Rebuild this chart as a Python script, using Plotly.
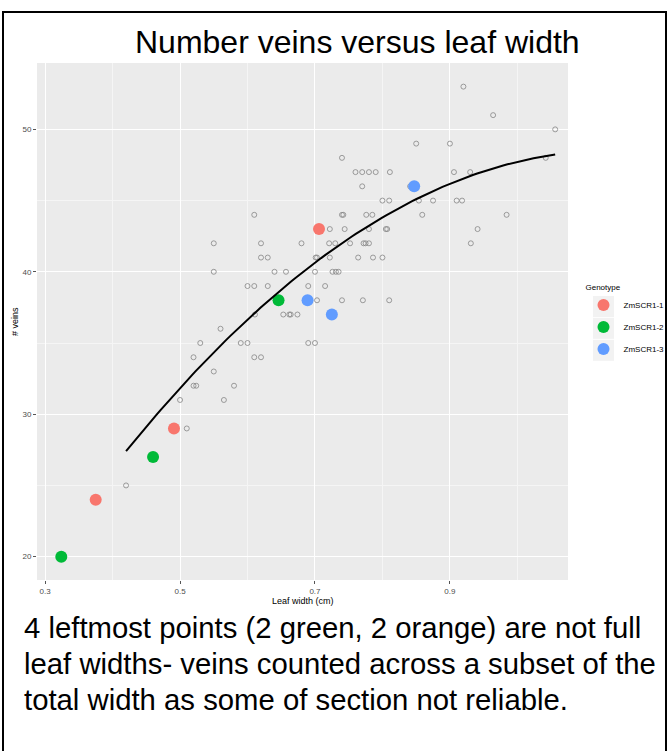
import numpy as np
import plotly.graph_objects as go

# ---- data ----
gray_x = [0.920, 0.964, 1.056, 0.850, 0.900, 0.740, 1.042,
          0.760, 0.770, 0.780, 0.790, 0.811, 0.906, 0.930,
          0.770, 0.841,
          0.800, 0.810, 0.854, 0.875, 0.910, 0.918,
          0.610, 0.740, 0.742, 0.776, 0.785, 0.859, 0.984,
          0.722, 0.744, 0.780, 0.805, 0.807, 0.941,
          0.550, 0.620, 0.680, 0.721, 0.730, 0.752, 0.772, 0.775, 0.780, 0.931,
          0.620, 0.630, 0.701, 0.703, 0.722, 0.764, 0.786, 0.800,
          0.550, 0.640, 0.657, 0.700, 0.726, 0.731, 0.735,
          0.600, 0.610, 0.630, 0.690, 0.715,
          0.703, 0.740, 0.771, 0.810,
          0.611, 0.653, 0.662, 0.664, 0.674,
          0.560,
          0.530, 0.590, 0.600, 0.690, 0.700,
          0.520, 0.610, 0.620,
          0.550,
          0.520, 0.524, 0.580,
          0.500, 0.565,
          0.510,
          0.420]
gray_y = [53, 51, 50, 49, 49, 48, 48,
          47, 47, 47, 47, 47, 47, 47,
          46, 46,
          45, 45, 45, 45, 45, 45,
          44, 44, 44, 44, 44, 44, 44,
          43, 43, 43, 43, 43, 43,
          42, 42, 42, 42, 42, 42, 42, 42, 42, 42,
          41, 41, 41, 41, 41, 41, 41, 41,
          40, 40, 40, 40, 40, 40, 40,
          39, 39, 39, 39, 39,
          38, 38, 38, 38,
          37, 37, 37, 37, 37,
          36,
          35, 35, 35, 35, 35,
          34, 34, 34,
          33,
          32, 32, 32,
          31, 31,
          29,
          25]

genotypes = ["ZmSCR1-1", "ZmSCR1-2", "ZmSCR1-3"]
geno_x = {
    "ZmSCR1-1": [0.375, 0.491, 0.706],
    "ZmSCR1-2": [0.324, 0.460, 0.646],
    "ZmSCR1-3": [0.689, 0.725, 0.847],
}
geno_y = {
    "ZmSCR1-1": [24, 29, 43],
    "ZmSCR1-2": [20, 27, 38],
    "ZmSCR1-3": [38, 37, 46],
}
geno_colors = {"ZmSCR1-1": "#F8766D", "ZmSCR1-2": "#00BA38", "ZmSCR1-3": "#619CFF"}

x_tick_vals = [0.3, 0.5, 0.7, 0.9]
x_tick_text = ["0.3", "0.5", "0.7", "0.9"]
y_tick_vals = [20, 30, 40, 50]
y_tick_text = ["20", "30", "40", "50"]

title_text = "Number veins versus leaf width"
note_lines = [
    "4 leftmost points (2 green, 2 orange) are not full",
    "leaf widths- veins counted across a subset of the",
    "total width as some of section not reliable.",
]

# ---- quadratic smoother fitted on the gray points ----
coef = np.polyfit(gray_x, gray_y, 2)
fit_x = np.linspace(min(gray_x), max(gray_x), 100)
fit_y = np.polyval(coef, fit_x)

FONT = "Liberation Sans, Arial, sans-serif"

fig = go.Figure()
fig.add_trace(go.Scatter(
    x=gray_x, y=gray_y, mode="markers", showlegend=False, hoverinfo="skip",
    marker=dict(symbol="circle-open", size=5, color="#858585", line=dict(width=0.8, color="#858585")),
))
for g in genotypes:
    fig.add_trace(go.Scatter(
        x=geno_x[g], y=geno_y[g], mode="markers", name=g, legendgroup=g,
        marker=dict(symbol="circle", size=12, color=geno_colors[g]),
    ))
fig.add_trace(go.Scatter(
    x=fit_x, y=fit_y, mode="lines", showlegend=False, hoverinfo="skip",
    line=dict(color="black", width=2),
))

L, R, T, B = 37, 100, 63, 171
W, H = 668, 751
pw, ph = W - L - R, H - T - B


def px(x):
    return (x - L) / pw


def py(y):
    return (H - B - y) / ph


fig.update_layout(
    width=W, height=H,
    margin=dict(l=L, r=R, t=T, b=B, autoexpand=False),
    paper_bgcolor="white", plot_bgcolor="#EBEBEB",
    font=dict(family=FONT, color="#4d4d4d", size=8),
    xaxis=dict(range=[0.288, 1.075], tickvals=x_tick_vals, ticktext=x_tick_text,
               showgrid=True, gridcolor="white", gridwidth=1.1, zeroline=False,
               ticks="outside", ticklen=3, tickcolor="#555", tickwidth=1,
               tickfont=dict(size=8, color="#4d4d4d"),
               minor=dict(dtick=0.2, tick0=0.4, showgrid=True, gridcolor="#F5F5F5", gridwidth=0.6, ticks="")),
    yaxis=dict(range=[18.36, 54.66], tickvals=y_tick_vals, ticktext=y_tick_text,
               showgrid=True, gridcolor="white", gridwidth=1.1, zeroline=False,
               ticks="outside", ticklen=3, tickcolor="#555", tickwidth=1,
               tickfont=dict(size=8, color="#4d4d4d"),
               minor=dict(dtick=10, tick0=25, showgrid=True, gridcolor="#F5F5F5", gridwidth=0.6, ticks="")),
    legend=dict(x=px(669.5), y=py(280), xanchor="right", yanchor="top",
                title=dict(text="Genotype", font=dict(size=8, color="black")),
                font=dict(size=8, color="black"), bgcolor="rgba(0,0,0,0)",
                itemsizing="constant", tracegroupgap=3),
    showlegend=True,
)

annotations = [
    dict(text=title_text, x=px(357), y=py(42), xref="paper", yref="paper",
         xanchor="center", yanchor="middle", showarrow=False,
         font=dict(family=FONT, size=32, color="black")),
    dict(text="Leaf width (cm)", x=0.5, y=py(601), xref="paper", yref="paper",
         xanchor="center", yanchor="middle", showarrow=False,
         font=dict(family=FONT, size=9, color="black")),
    dict(text="# veins", x=px(15), y=py(322), xref="paper", yref="paper",
         xanchor="center", yanchor="middle", showarrow=False, textangle=-90,
         font=dict(family=FONT, size=9, color="black")),
]
for line, yc in zip(note_lines, [627, 663, 699]):
    annotations.append(dict(text=line, x=px(22), y=py(yc), xref="paper", yref="paper",
                            xanchor="left", yanchor="middle", showarrow=False,
                            font=dict(family=FONT, size=29.3, color="black")))
fig.update_layout(annotations=annotations)

# ggplot-style grey legend key boxes
for yc in [306.5, 328.3, 350.3]:
    fig.add_shape(type="rect", xref="paper", yref="paper",
                  x0=px(593), x1=px(614), y0=py(yc + 10.5), y1=py(yc - 10.5),
                  line=dict(width=0), fillcolor="#F2F2F2", layer="below")

# outer frame (bottom edge lies below the visible page, as in the reference)
fig.add_shape(type="rect", xref="paper", yref="paper",
              x0=px(3), x1=px(666), y0=py(760), y1=py(12),
              line=dict(color="black", width=2), fillcolor="rgba(0,0,0,0)", layer="above")

fig.write_html("out.html",
               config={"displayModeBar": False},
               post_script="document.body.style.margin='0';document.documentElement.style.overflow='hidden';")
